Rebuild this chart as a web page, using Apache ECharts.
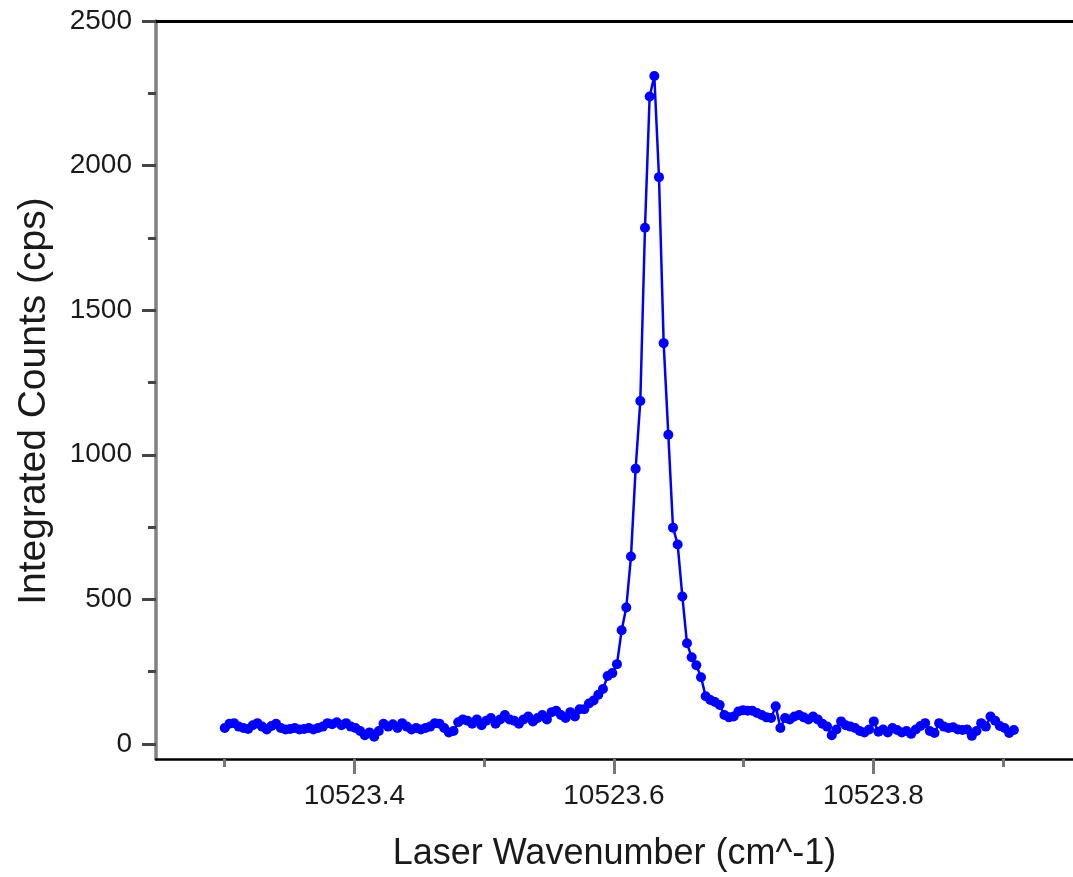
<!DOCTYPE html>
<html><head><meta charset="utf-8">
<script src="https://cdn.jsdelivr.net/npm/echarts@6/dist/echarts.min.js"></script>
<style>html,body{margin:0;padding:0;background:#fff}#c{width:1073px;height:877px}</style>
</head><body><div id="c"></div>
<script>
// Scan: first wavenumber and constant scan step (cm^-1)
const wavenumberStart = 10523.3;
const wavenumberStep = 0.0036;
// Integrated counts (cps), one per scan step
const counts = [
  55,70,72,60,55,52,65,72,60,50,
  62,70,55,50,52,55,50,52,55,50,
  55,60,72,68,75,65,72,60,55,45,
  30,40,25,45,70,60,68,55,72,60,
  50,55,50,55,60,72,70,55,40,45,
  75,85,80,70,85,65,80,90,70,85,
  100,85,80,70,85,95,78,90,100,85,
  110,115,100,90,110,95,120,120,140,150,
  170,190,235,245,276,393,472,648,952,1186,
  1785,2239,2310,1960,1386,1069,748,690,510,348,
  300,272,231,165,152,145,135,100,92,95,
  112,117,115,115,107,100,92,90,130,55,
  90,85,95,100,92,85,95,85,70,60,
  30,50,78,65,60,55,45,40,50,78,
  42,50,40,55,48,40,45,35,50,62,
  72,45,38,72,60,55,58,50,48,50,
  28,45,72,60,95,80,62,55,38,48
];
const xMajorTicks = [10523.4, 10523.6, 10523.8];
const xMinorTicks = [10523.3, 10523.5, 10523.7, 10523.9];
const yMajorTicks = [0, 500, 1000, 1500, 2000, 2500];
const yMinorTicks = [250, 750, 1250, 1750, 2250];
const xTitle = 'Laser Wavenumber (cm^-1)';
const yTitle = 'Integrated Counts (cps)';

const X_MIN = 10523.247, X_MAX = 10523.954, Y_MIN = -52, Y_MAX = 2500;
const FONT = 'Liberation Sans, Arial, sans-serif';
const TXT = '#1a1a1a';

const seriesData = counts.map((v, i) => [+(wavenumberStart + i * wavenumberStep).toFixed(4), v]);

const chart = echarts.init(document.getElementById('c'), null, {renderer: 'canvas'});
chart.setOption({
  animation: false,
  backgroundColor: '#ffffff',
  grid: {left: 156, right: 0, top: 21, bottom: 116, containLabel: false},
  xAxis: [
    {
      type: 'value', position: 'bottom', min: X_MIN, max: X_MAX,
      name: xTitle, nameLocation: 'middle', nameGap: 77,
      nameTextStyle: {fontFamily: FONT, fontSize: 36, color: TXT},
      axisLine: {show: true, onZero: false, lineStyle: {color: '#000', width: 2.5}},
      axisTick: {show: true, customValues: xMajorTicks, length: 15, lineStyle: {color: '#777', width: 3}},
      axisLabel: {show: true, customValues: xMajorTicks, margin: 23, fontFamily: FONT, fontSize: 28, color: TXT,
        formatter: v => v.toFixed(1)},
      splitLine: {show: false}
    },
    {
      type: 'value', position: 'bottom', min: X_MIN, max: X_MAX,
      axisLine: {show: false, onZero: false},
      axisTick: {show: true, customValues: xMinorTicks, length: 8, lineStyle: {color: '#777', width: 3}},
      axisLabel: {show: false}, splitLine: {show: false}
    },
    {
      type: 'value', position: 'top', min: X_MIN, max: X_MAX,
      axisLine: {show: true, onZero: false, lineStyle: {color: '#000', width: 3}},
      axisTick: {show: false}, axisLabel: {show: false}, splitLine: {show: false}
    }
  ],
  yAxis: [
    {
      type: 'value', position: 'left', min: Y_MIN, max: Y_MAX,
      name: yTitle, nameLocation: 'middle', nameGap: 102, nameRotate: 90,
      nameTextStyle: {fontFamily: FONT, fontSize: 39, color: TXT, padding: [0, 22, 0, 0]},
      axisLine: {show: true, onZero: false, lineStyle: {color: '#808080', width: 3.5}},
      axisTick: {show: true, customValues: yMajorTicks, length: 14, lineStyle: {color: '#444', width: 3}},
      axisLabel: {show: true, customValues: yMajorTicks, margin: 24, fontFamily: FONT, fontSize: 28, color: TXT,
        formatter: v => String(v)},
      splitLine: {show: false}
    },
    {
      type: 'value', position: 'left', min: Y_MIN, max: Y_MAX,
      axisLine: {show: false, onZero: false},
      axisTick: {show: true, customValues: yMinorTicks, length: 8, lineStyle: {color: '#444', width: 3}},
      axisLabel: {show: false}, splitLine: {show: false}
    }
  ],
  series: [{
    type: 'line',
    xAxisIndex: 0, yAxisIndex: 0,
    data: seriesData,
    symbol: 'circle', symbolSize: 10, showSymbol: true,
    itemStyle: {color: '#0000ff'},
    lineStyle: {color: '#0000ff', width: 2.5},
    z: 5
  }]
});
</script>
</body></html>
